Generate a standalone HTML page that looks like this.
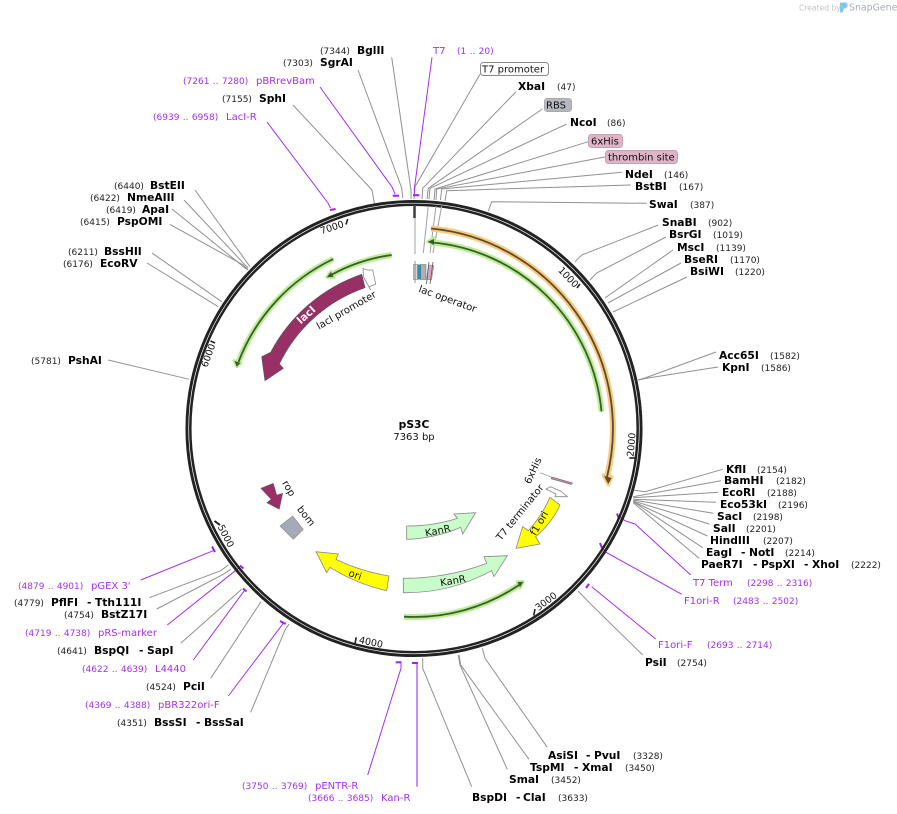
<!DOCTYPE html>
<html><head><meta charset="utf-8"><style>
html,body{margin:0;padding:0;background:#fff}
svg{display:block}
text{font-family:"DejaVu Sans","Liberation Sans",sans-serif;font-size:10px;fill:#111}
.b{font-weight:bold;font-size:10.7px;fill:#000}
.n{font-size:9px;fill:#222}
.p{fill:#a52ef0}
.pn{font-size:9px;fill:#a52ef0;word-spacing:.5px}
.l{fill:none;stroke:#909090;stroke-width:1}
.v{fill:none;stroke:#a52ef0;stroke-width:1}
.bar{fill:none;stroke:#a020f0;stroke-width:2}
.t{font-size:9.5px}
</style></head><body>
<svg xmlns="http://www.w3.org/2000/svg" width="897" height="814" viewBox="0 0 897 814">
<rect width="897" height="814" fill="#fff"/>
<!-- watermark -->
<text x="799" y="10.5" style="font-size:7.6px;fill:#c4c4c4">Created by</text>
<path d="M840 2.5h5q3 0 2.5 3t-3.5 3l-1.5 4h-2.5z" fill="#7cc8f0"/>
<text x="849" y="10.5" style="font-size:9.4px;fill:#a6adb4">SnapGene</text>

<!-- leaders top -->
<polyline class="l" points="391.7,57.3 411,190 411,199"/>
<polyline class="l" points="358,70 401.7,188 402.7,198"/>
<polyline class="l" points="293,105 372,190 374.5,204"/>
<polyline class="l" points="480,74.3 415,186.7 414,199"/>
<polyline class="l" points="516,91.7 422.7,188.3 422,199"/>
<polyline class="l" points="542.3,109 428.3,188.3 427,199"/>
<polyline class="l" points="566.7,124 430,188.3 429,199"/>
<polyline class="l" points="588.3,141.7 435,189 434,200"/>
<polyline class="l" points="606,156.7 436.7,189 436,200"/>
<polyline class="l" points="621.7,172.3 441.7,189 440.5,200"/>
<polyline class="l" points="630.7,185 446.7,190.7 445,201"/>
<polyline class="l" points="646.7,203.3 491.7,201.7 488.3,211"/>
<polyline class="l" points="658.3,225 581.7,255 575,261.7"/>
<polyline class="l" points="666,237 596.7,273 590,280"/>
<line class="l" x1="673" y1="250" x2="605" y2="298"/>
<line class="l" x1="681" y1="263" x2="608" y2="303"/>
<line class="l" x1="687" y1="277" x2="613" y2="312"/>
<polyline class="l" points="716,352 645,378 638,380"/>
<polyline class="l" points="718,367 648,378 638,380"/>
<!-- right -->
<polyline class="l" points="722.7,469.3 645,491.7 633,490"/>
<line class="l" x1="721" y1="480.7" x2="633.3" y2="496.7"/>
<line class="l" x1="718.3" y1="492.3" x2="633.3" y2="497.7"/>
<line class="l" x1="716" y1="502.3" x2="633.3" y2="499.3"/>
<line class="l" x1="713.3" y1="513.3" x2="633.3" y2="500"/>
<line class="l" x1="709.3" y1="524" x2="633.3" y2="501"/>
<line class="l" x1="707.3" y1="536" x2="633.3" y2="501.7"/>
<line class="l" x1="702.7" y1="547.7" x2="633.3" y2="501.7"/>
<line class="l" x1="699" y1="558.3" x2="633.3" y2="502.7"/>
<polyline class="l" points="642.7,655 590,603.3 578,591"/>
<!-- bottom -->
<polyline class="l" points="471.7,786.7 422.7,668.3 422.7,658"/>
<polyline class="l" points="507.3,769.3 460,665 458.3,655"/>
<polyline class="l" points="529,759.3 460.7,665 459,655"/>
<polyline class="l" points="547.3,747.3 485,658.3 482.3,648.3"/>
<!-- left -->
<polyline class="l" points="149.3,597.7 220.7,570.7 228.3,565"/>
<polyline class="l" points="156.7,609 223.3,574.3 230.7,569.3"/>
<line class="l" x1="180.7" y1="643.3" x2="241.7" y2="589.3"/>
<line class="l" x1="210.7" y1="678.3" x2="261" y2="601.7"/>
<polyline class="l" points="250.7,712.3 285,630 289,624"/>
<line class="l" x1="195" y1="190" x2="250" y2="266.7"/>
<line class="l" x1="184" y1="200" x2="248.3" y2="268.3"/>
<line class="l" x1="172" y1="209" x2="246.7" y2="269.3"/>
<polyline class="l" points="170,224.4 243.3,265 248,270"/>
<line class="l" x1="152" y1="253" x2="221.7" y2="301.7"/>
<line class="l" x1="147" y1="263" x2="218.3" y2="306.7"/>
<line class="l" x1="108" y1="360" x2="189.3" y2="379.3"/>

<!-- purple leaders -->
<polyline class="v" points="432,57.3 414.3,189 414.3,194"/>
<path class="bar" d="M413 195.2H419.3"/>
<polyline class="v" points="320,87 392,187 395,194"/>
<path class="bar" d="M392.7 195.7H399"/>
<polyline class="v" points="267,122 328,203 330.5,208"/>
<path class="bar" d="M330 210L335.6 209"/>
<polyline class="v" points="690.7,575 635,524 625,520.7 618,516"/>
<path class="bar" d="M617 513.5L618.6 518"/>
<polyline class="v" points="681.7,594.3 605,551.7 600.7,545"/>
<path class="bar" d="M600 543L602 548"/>
<polyline class="v" points="655.7,639 591.7,586.7"/>
<path class="bar" d="M586 588L589 583.8"/>
<polyline class="v" points="367.7,775 401,668.3 401,663"/>
<path class="bar" d="M395.7 662.3H401.5"/>
<line x1="417" y1="786.7" x2="417" y2="664" stroke="#b96ff5" stroke-width="1.6"/>
<path class="bar" d="M412 663H418"/>
<line class="v" x1="140.7" y1="580" x2="213.3" y2="550.7"/>
<path class="bar" d="M212 546.5L215 552"/>
<line class="v" x1="167.3" y1="625" x2="238.3" y2="568.3"/>
<path class="bar" d="M240 565.5L243.5 568.5"/>
<line class="v" x1="193.3" y1="660" x2="244.3" y2="590.7"/>
<path class="bar" d="M243 588.5L246.5 591.5"/>
<line class="v" x1="228.3" y1="696" x2="283.3" y2="623.3"/>
<path class="bar" d="M280 621L285.7 624"/>

<!-- ring -->
<circle cx="414" cy="428.5" r="227.1" fill="none" stroke="#222" stroke-width="2.9"/>
<circle cx="414" cy="428.5" r="223.7" fill="none" stroke="#222" stroke-width="2.5"/>

<!-- ticks -->
<g stroke="#222" stroke-width="1.6" fill="none">
<path d="M414.5 205V218" stroke="#444" stroke-width="2.6"/>
<path d="M347.7 219L346 224.5"/>
<path d="M580 284L577 288"/>
<path d="M635 458L629.3 458"/>
<path d="M533.7 615.5L535 609"/>
<path d="M355 644L356.2 637.3"/>
<path d="M214.5 521L220 525" stroke-width="2"/>
<path d="M215 343L210.5 341"/>
</g>
<line x1="415" y1="218" x2="415" y2="254" stroke="#b0b0b0" stroke-width="1.2"/>
<line x1="428.3" y1="206" x2="423.3" y2="253" stroke="#a0a0a0" stroke-width="1"/>
<line x1="436" y1="206" x2="430" y2="253" stroke="#a0a0a0" stroke-width="1"/>
<line x1="441.7" y1="206" x2="433" y2="253" stroke="#a0a0a0" stroke-width="1"/>

<text class="t" transform="translate(333,230.5) rotate(-18)" text-anchor="middle">7000</text>
<text class="t" transform="translate(211.3,356.5) rotate(-70)" text-anchor="middle">6000</text>
<text class="t" transform="translate(223,537.5) rotate(63)" text-anchor="middle">5000</text>
<text class="t" transform="translate(370.3,645.4) rotate(12)" text-anchor="middle">4000</text>
<text class="t" transform="translate(548,604) rotate(-37)" text-anchor="middle">3000</text>
<text class="t" transform="translate(634.5,445) rotate(-85)" text-anchor="middle">2000</text>
<text class="t" transform="translate(566,279.5) rotate(46)" text-anchor="middle">1000</text>

<!-- glow arcs -->
<g fill="none" stroke-linecap="butt">
<path d="M431 228.5A201 201 0 0 1 607 477" stroke="#fbc97c" stroke-width="6"/>
<path d="M601.5 411.5A187 187 0 0 0 431 242.4" stroke="#b9ef92" stroke-width="6"/>
<path d="M391.7 255A175 175 0 0 0 332 274.5" stroke="#b9ef92" stroke-width="6"/>
<path d="M333.3 259A187.7 187.7 0 0 0 238.5 362" stroke="#b9ef92" stroke-width="6"/>
<path d="M404 616.7A188 188 0 0 0 519 585" stroke="#b9ef92" stroke-width="6"/>
</g>
<g stroke-linejoin="round">
<polygon points="608.3,485 603,475 612,477" fill="#fbc97c" stroke="#fbc97c" stroke-width="3"/>
<polygon points="427.7,241.7 434,238 434,245" fill="#b9ef92" stroke="#b9ef92" stroke-width="3"/>
<polygon points="326.7,277.3 331,271.3 334,277.5" fill="#b9ef92" stroke="#b9ef92" stroke-width="3"/>
<polygon points="236.7,366.7 234,360.5 241,363" fill="#b9ef92" stroke="#b9ef92" stroke-width="3"/>
<polygon points="523.3,581.7 517,581.7 520,588" fill="#b9ef92" stroke="#b9ef92" stroke-width="3"/>
</g>
<g fill="none" stroke-width="1.8">
<path d="M431 228.5A201 201 0 0 1 607 477" stroke="#5a4c34"/>
<path d="M601.5 411.5A187 187 0 0 0 431 242.4" stroke="#3f5a30"/>
<path d="M391.7 255A175 175 0 0 0 332 274.5" stroke="#3f5a30"/>
<path d="M333.3 259A187.7 187.7 0 0 0 238.5 362" stroke="#3f5a30"/>
<path d="M404 616.7A188 188 0 0 0 519 585" stroke="#3f5a30"/>
</g>
<polygon points="608.3,484 604,476 611.5,478" fill="#5a4c34"/>
<polygon points="427.7,241.7 434,239 434,245" fill="#3f5a30"/>
<polygon points="326.7,277.3 331,271.8 333.5,277" fill="#3f5a30"/>
<polygon points="236.7,366.7 234.5,361 240.5,363" fill="#3f5a30"/>
<polygon points="523.3,581.7 517.5,582 520,587.5" fill="#3f5a30"/>

<!-- lacI -->
<path d="M361.7 274.3L365 287.7A149 149 0 0 0 279.3 364L283.3 368.3L265 380.7L261.7 356.7L270.7 352.3A163 163 0 0 1 361.7 274.3Z" fill="#983066" stroke="#555" stroke-width=".7"/>
<text transform="translate(308.5,317.5) rotate(-42)" text-anchor="middle" style="fill:#fff;font-size:10.5px;font-weight:bold">lacI</text>
<polygon points="363.5,277 363,268.5 367,270 372.7,270 375.7,284.3 369,286.7 370.7,290" fill="#fff" stroke="#888" stroke-width=".8"/>
<text transform="translate(348,313) rotate(-30)" text-anchor="middle">lacI promoter</text>

<!-- lac operator -->
<rect x="413.5" y="264.5" width="4" height="15" fill="#d8d8d8" stroke="#888" stroke-width=".6"/>
<rect x="417.5" y="264.5" width="3" height="15" fill="#2e90a8"/>
<rect x="420.7" y="264.5" width="5.3" height="15" fill="#a8b0b8" stroke="#666" stroke-width=".5"/>
<polygon points="428.5,265 434,265.5 431.5,280 426.5,279.5" fill="#d8a8c0" stroke="#a08090" stroke-width=".5"/>
<line x1="415" y1="261" x2="415" y2="283" stroke="#666" stroke-width=".7"/>
<line x1="429" y1="262" x2="426.5" y2="284" stroke="#555" stroke-width=".8"/>
<line x1="433" y1="262" x2="430" y2="284" stroke="#555" stroke-width=".8"/>
<text transform="translate(446.5,302) rotate(20)" text-anchor="middle">lac operator</text>

<!-- center -->
<text x="414" y="428" text-anchor="middle" class="b">pS3C</text>
<text x="414" y="440" text-anchor="middle">7363 bp</text>

<!-- features -->
<polygon points="260.7,488.3 273.3,483.3 276.7,495 282.7,493.3 279.3,509.3 266.7,502.7 271,499.3" fill="#983066" stroke="#666" stroke-width=".5"/>
<polygon points="280,526 292.7,516 303.3,529.3 293.3,539.3" fill="#a6aab4" stroke="#888" stroke-width=".6"/>
<g transform="translate(230,440) scale(.33333)" stroke="#888" stroke-width="2.4">
<path d="M530 258Q610 258 682 235L672 222L737 218L698 282L692 262Q615 295 530 298Z" fill="#c8fcc8"/>
<path d="M520 415Q650 415 770 370L762 350L832 347L792 410L785 392Q660 460 520 458Z" fill="#c8fcc8"/>
<path d="M477 408Q390 393 318 358L325 342L258 335L290 398L300 382Q380 432 470 452Z" fill="#ffff00"/>
<path d="M960 172L990 195Q965 250 917 290L930 312L858 325L878 260L895 272Q935 228 960 172Z" fill="#ffff00"/>
</g>
<text transform="translate(438.5,534) rotate(-12)" text-anchor="middle">KanR</text>
<text transform="translate(453.5,584) rotate(-10)" text-anchor="middle">KanR</text>
<text transform="translate(354,578) rotate(20)" text-anchor="middle">ori</text>
<text transform="translate(542,525) rotate(-60)" text-anchor="middle">f1 ori</text>
<text transform="translate(522.5,514.5) rotate(-51)" text-anchor="middle">T7 terminator</text>
<text transform="translate(536,472) rotate(-65)" text-anchor="middle">6xHis</text>
<text transform="translate(286,490) rotate(60)" text-anchor="middle">rop</text>
<text transform="translate(303.5,518) rotate(52)" text-anchor="middle">bom</text>
<polygon points="546,489 550.7,486.7 561.7,491.7 567.3,496.7 555,496.7 556,494" fill="#fff" stroke="#888" stroke-width=".8"/>
<line x1="540" y1="472.7" x2="552" y2="477.3" stroke="#999" stroke-width=".8"/>
<polygon points="552,477 572.7,483 571.5,484.5 551,478.8" fill="#c08aa8" stroke="#555" stroke-width=".5"/>

<!-- boxes -->
<rect x="480.5" y="62.5" width="68" height="13" rx="3" fill="#fff" stroke="#888"/>
<text x="482" y="72.5">T7 promoter</text>
<rect x="544.5" y="98.5" width="27" height="13" rx="3" fill="#b4b8c0" stroke="#aaa"/>
<text x="546" y="108.5">RBS</text>
<rect x="588.5" y="134.5" width="34" height="13" rx="3" fill="#e0b4c8" stroke="#c8a0b4"/>
<text x="591" y="144.5">6xHis</text>
<rect x="605.5" y="150.5" width="72" height="13" rx="3" fill="#e0b4c8" stroke="#c8a0b4"/>
<text x="608" y="160.5">thrombin site</text>

<!-- top labels -->
<text x="320" y="54" class="n">(7344)</text><text x="357" y="54" class="b">BglII</text>
<text x="283" y="66" class="n">(7303)</text><text x="320" y="66" class="b">SgrAI</text>
<text x="183" y="84" class="pn">(7261 .. 7280)</text><text x="256" y="84" class="p">pBRrevBam</text>
<text x="222" y="102" class="n">(7155)</text><text x="259" y="102" class="b">SphI</text>
<text x="153" y="120" class="pn">(6939 .. 6958)</text><text x="226" y="120" class="p">LacI-R</text>
<text x="114" y="189" class="n">(6440)</text><text x="150" y="189" class="b">BstEII</text>
<text x="90" y="201" class="n">(6422)</text><text x="127" y="201" class="b">NmeAIII</text>
<text x="106" y="213" class="n">(6419)</text><text x="142" y="213" class="b">ApaI</text>
<text x="80" y="225" class="n">(6415)</text><text x="117" y="225" class="b">PspOMI</text>
<text x="68" y="255" class="n">(6211)</text><text x="104" y="255" class="b">BssHII</text>
<text x="63" y="267" class="n">(6176)</text><text x="100" y="267" class="b">EcoRV</text>
<text x="31" y="364" class="n">(5781)</text><text x="68" y="364" class="b">PshAI</text>

<text x="433" y="54" class="p">T7</text><text x="457" y="54" class="pn">(1 .. 20)</text>
<text x="518" y="90" class="b">XbaI</text><text x="557" y="90" class="n">(47)</text>
<text x="570" y="126" class="b">NcoI</text><text x="607" y="126" class="n">(86)</text>
<text x="625" y="178" class="b">NdeI</text><text x="664" y="178" class="n">(146)</text>
<text x="635" y="190" class="b">BstBI</text><text x="679" y="190" class="n">(167)</text>
<text x="649" y="208" class="b">SwaI</text><text x="690" y="208" class="n">(387)</text>
<text x="662" y="226" class="b">SnaBI</text><text x="708" y="226" class="n">(902)</text>
<text x="669" y="238" class="b">BsrGI</text><text x="713" y="238" class="n">(1019)</text>
<text x="677" y="251" class="b">MscI</text><text x="716" y="251" class="n">(1139)</text>
<text x="684" y="263" class="b">BseRI</text><text x="730" y="263" class="n">(1170)</text>
<text x="690" y="275" class="b">BsiWI</text><text x="735" y="275" class="n">(1220)</text>
<text x="719" y="359" class="b">Acc65I</text><text x="770" y="359" class="n">(1582)</text>
<text x="722" y="371" class="b">KpnI</text><text x="761" y="371" class="n">(1586)</text>

<text x="726" y="473" class="b">KflI</text><text x="757" y="473" class="n">(2154)</text>
<text x="724" y="484" class="b">BamHI</text><text x="776" y="484" class="n">(2182)</text>
<text x="722" y="496" class="b">EcoRI</text><text x="767" y="496" class="n">(2188)</text>
<text x="720" y="508" class="b">Eco53kI</text><text x="778" y="508" class="n">(2196)</text>
<text x="717" y="520" class="b">SacI</text><text x="753" y="520" class="n">(2198)</text>
<text x="713" y="532" class="b">SalI</text><text x="746" y="532" class="n">(2201)</text>
<text x="710" y="544" class="b">HindIII</text><text x="763" y="544" class="n">(2207)</text>
<text x="706" y="556" class="b">EagI</text><text x="741" y="556" class="b">-</text><text x="749" y="556" class="b">NotI</text><text x="785" y="556" class="n">(2214)</text>
<text x="701" y="568" class="b">PaeR7I</text><text x="753" y="568" class="b">-</text><text x="761" y="568" class="b">PspXI</text><text x="804" y="568" class="b">-</text><text x="812" y="568" class="b">XhoI</text><text x="851" y="568" class="n">(2222)</text>
<text x="693" y="586" class="p">T7 Term</text><text x="747" y="586" class="pn">(2298 .. 2316)</text>
<text x="684" y="604" class="p">F1ori-R</text><text x="733" y="604" class="pn">(2483 .. 2502)</text>
<text x="658" y="648" class="p">F1ori-F</text><text x="707" y="648" class="pn">(2693 .. 2714)</text>
<text x="645" y="666" class="b">PsiI</text><text x="677" y="666" class="n">(2754)</text>

<text x="18" y="589" class="pn">(4879 .. 4901)</text><text x="91" y="589" class="p">pGEX 3'</text>
<text x="14" y="606" class="n">(4779)</text><text x="51" y="606" class="b">PflFI</text><text x="87" y="606" class="b">-</text><text x="95" y="606" class="b">Tth111I</text>
<text x="64" y="618" class="n">(4754)</text><text x="101" y="618" class="b">BstZ17I</text>
<text x="25" y="636" class="pn">(4719 .. 4738)</text><text x="98" y="636" class="p">pRS-marker</text>
<text x="57" y="654" class="n">(4641)</text><text x="94" y="654" class="b">BspQI</text><text x="139" y="654" class="b">-</text><text x="147" y="654" class="b">SapI</text>
<text x="82" y="672" class="pn">(4622 .. 4639)</text><text x="155" y="672" class="p">L4440</text>
<text x="146" y="690" class="n">(4524)</text><text x="183" y="690" class="b">PciI</text>
<text x="85" y="708" class="pn">(4369 .. 4388)</text><text x="158" y="708" class="p">pBR322ori-F</text>
<text x="117" y="726" class="n">(4351)</text><text x="154" y="726" class="b">BssSI</text><text x="196" y="726" class="b">-</text><text x="204" y="726" class="b">BssSaI</text>

<text x="242" y="789" class="pn">(3750 .. 3769)</text><text x="315" y="789" class="p">pENTR-R</text>
<text x="308" y="801" class="pn">(3666 .. 3685)</text><text x="381" y="801" class="p">Kan-R</text>
<text x="472" y="801" class="b">BspDI</text><text x="516" y="801" class="b">-</text><text x="523" y="801" class="b">ClaI</text><text x="558" y="801" class="n">(3633)</text>
<text x="509" y="783" class="b">SmaI</text><text x="551" y="783" class="n">(3452)</text>
<text x="530" y="771" class="b">TspMI</text><text x="574" y="771" class="b">-</text><text x="582" y="771" class="b">XmaI</text><text x="625" y="771" class="n">(3450)</text>
<text x="548" y="759" class="b">AsiSI</text><text x="586" y="759" class="b">-</text><text x="594" y="759" class="b">PvuI</text><text x="633" y="759" class="n">(3328)</text>
</svg>
</body></html>
